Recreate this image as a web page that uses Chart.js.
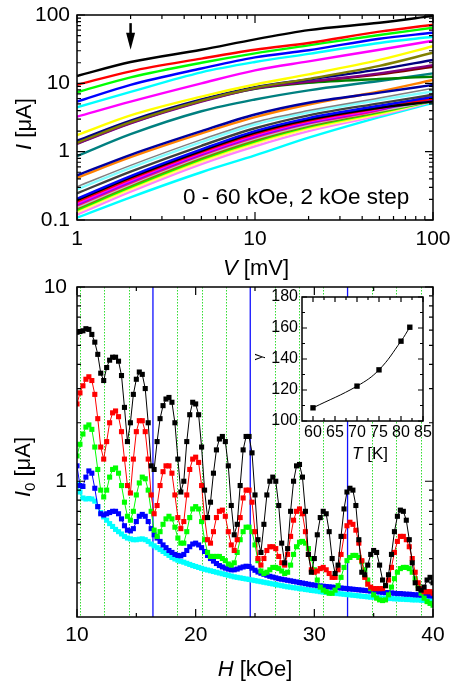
<!DOCTYPE html>
<html><head><meta charset="utf-8">
<script src="https://cdn.jsdelivr.net/npm/chart.js@4"></script>
<style>
html,body{margin:0;padding:0;background:#fff;}
body{width:451px;height:684px;position:relative;overflow:hidden;}
canvas{position:absolute;}
</style></head><body>
<canvas id="top" width="451" height="290" style="left:0;top:0;width:451px;height:290px"></canvas>
<canvas id="bot" width="451" height="424" style="left:0;top:260px;width:451px;height:424px"></canvas>
<canvas id="ins" width="201" height="185" style="left:250px;top:285px;width:201px;height:185px"></canvas>
<script>
// ---------- top panel data: I(V) curves, 0-60 kOe in 2 kOe steps ----------
const V = [1, 2, 5, 10, 20, 50, 100];
const curveColors = ['#000000','#FF0000','#00FF00','#0000FF','#00FFFF','#FF00FF','#FFFF00','#808000','#000080','#800080','#800000','#008000','#008080','#0000A0','#FF8000','#808080','#80FFFF','#404040','#0000FF','#000000','#FF0000','#FF00FF','#8000FF','#FF0080','#C0C0C0','#808000','#00FF00','#FFFF00','#FFFF80','#FF80FF','#00FFFF'];
const curves = [
 [12.8, 20.5, 31, 44, 60, 77, 97],
 [9.5, 15, 23, 31, 39, 57, 72],
 [7.4, 12.2, 20, 27.5, 36, 51, 65],
 [5.4, 9.5, 16.5, 24, 30.5, 45, 55],
 [4.45, 7.5, 14.5, 20.5, 27, 39, 48],
 [3.25, 5.4, 10, 15.5, 21, 31, 42],
 [1.75, 3.4, 6.4, 9.6, 13.5, 22, 35],
 [1.35, 2.7, 5.6, 8.6, 11.6, 18, 28],
 [1.45, 2.85, 5.8, 8.8, 11.4, 16, 22],
 [1.3, 2.6, 5.4, 8.4, 10.6, 14, 18.5],
 [1.38, 2.7, 5.6, 8.5, 10.5, 13.5, 17.5],
 [1.32, 2.65, 5.5, 8.3, 10.2, 11.6, 12.5],
 [0.86, 1.8, 3.9, 5.8, 7.9, 10.8, 14],
 [0.45, 0.9, 2.0, 3.5, 5.2, 7.3, 9.5],
 [0.415, 0.83, 1.85, 3.2, 4.9, 7.6, 11.2],
 [0.307, 0.63, 1.5, 2.7, 4.0, 6.1, 8.5],
 [0.28, 0.58, 1.38, 2.5, 3.75, 5.7, 7.6],
 [0.246, 0.51, 1.22, 2.2, 3.4, 5.1, 6.8],
 [0.205, 0.44, 1.08, 2.0, 3.1, 4.7, 6.3],
 [0.195, 0.42, 1.03, 1.9, 2.95, 4.4, 5.4],
 [0.185, 0.4, 0.99, 1.82, 2.85, 4.35, 6.0],
 [0.176, 0.38, 0.95, 1.74, 2.75, 4.25, 6.6],
 [0.17, 0.365, 0.92, 1.68, 2.65, 4.15, 5.8],
 [0.163, 0.35, 0.89, 1.62, 2.6, 4.05, 6.9],
 [0.155, 0.335, 0.85, 1.55, 2.5, 3.95, 5.6],
 [0.148, 0.32, 0.81, 1.48, 2.4, 3.85, 5.6],
 [0.141, 0.305, 0.78, 1.42, 2.32, 3.75, 5.5],
 [0.137, 0.295, 0.75, 1.37, 2.25, 3.65, 5.7],
 [0.13, 0.28, 0.71, 1.3, 2.15, 3.55, 5.5],
 [0.12, 0.26, 0.66, 1.2, 2.0, 3.4, 5.4],
 [0.108, 0.215, 0.5, 0.88, 1.6, 3.2, 5.2]
];
const topXTicks = [1, 10, 100];
const topXMinor = [2,3,4,5,6,7,8,9,20,30,40,50,60,70,80,90];
const topYTicks = [0.1, 1, 10, 100];
const topYMinor = [0.2,0.3,0.4,0.5,0.6,0.7,0.8,0.9,2,3,4,5,6,7,8,9,20,30,40,50,60,70,80,90];
const arrowAt = {v: 2, from: 76, to: 31};
const topNote = '0 - 60 kOe, 2 kOe step';

// ---------- bottom panel data: I0(H) ----------
const H = [10,10.25,10.5,10.75,11,11.25,11.5,11.75,12,12.25,12.5,12.75,13,13.25,13.5,13.75,14,14.25,14.5,14.75,15,15.25,15.5,15.75,16,16.25,16.5,16.75,17,17.25,17.5,17.75,18,18.25,18.5,18.75,19,19.25,19.5,19.75,20,20.25,20.5,20.75,21,21.25,21.5,21.75,22,22.25,22.5,22.75,23,23.25,23.5,23.75,24,24.25,24.5,24.75,25,25.25,25.5,25.75,26,26.25,26.5,26.75,27,27.25,27.5,27.75,28,28.25,28.5,28.75,29,29.25,29.5,29.75,30,30.25,30.5,30.75,31,31.25,31.5,31.75,32,32.25,32.5,32.75,33,33.25,33.5,33.75,34,34.25,34.5,34.75,35,35.25,35.5,35.75,36,36.25,36.5,36.75,37,37.25,37.5,37.75,38,38.25,38.5,38.75,39,39.25,39.5,39.75,40];
const blackI0 = [5.85,5.9,5.95,6.1, 6.05,5.7,5.2,4.5, 3.6,3.3,3.85,4.2, 4.35,4.35,4.15,3.5, 2.4,1.6,2.0,2.8, 3.35,3.65,3.55,3.0, 2.0,1.2,1.15,1.6, 2.1,2.45,2.65,2.7, 2.55,2.0,1.3,0.88, 1.0,1.6,2.2,2.55, 2.5,2.2,1.5,0.9, 0.65,0.78,1.1,1.45, 1.65,1.7,1.6,1.2, 0.75,0.53,0.6,0.95, 1.45,1.7,1.7,1.4, 0.85,0.5,0.43,0.6, 0.85,1.0,1.05,1.0, 0.75,0.48,0.38,0.45, 0.7,1.0,1.2,1.22, 1.05,0.7,0.42,0.34, 0.4,0.53,0.65,0.7, 0.68,0.55,0.4,0.335, 0.37,0.52,0.72,0.88, 0.92,0.9,0.75,0.5, 0.34,0.33,0.37,0.42, 0.44,0.43,0.37,0.31, 0.29,0.33,0.42,0.55, 0.66,0.71,0.7,0.63, 0.5,0.38,0.3,0.28, 0.275,0.285,0.31,0.32, 0.3];
const redI0 = [2.5,2.85,3.1,3.35, 3.45,3.3,2.8,2.1, 1.5,1.3,1.6,2.0, 2.25,2.3,2.15,1.8, 1.3,0.95,0.87,1.3, 1.8,2.05,2.05,1.8, 1.3,0.85,0.68,0.75, 0.95,1.12,1.2,1.2, 1.1,0.85,0.65,0.57, 0.62,0.85,1.15,1.3, 1.33,1.25,0.95,0.65, 0.5,0.48,0.55,0.65, 0.7,0.71,0.66,0.55, 0.47,0.44,0.5,0.65, 0.82,0.9,0.9,0.78, 0.55,0.4,0.37,0.4, 0.44,0.46,0.46,0.45, 0.41,0.38,0.37,0.42, 0.52,0.63,0.7,0.72, 0.68,0.55,0.42,0.35, 0.34,0.345,0.355,0.36, 0.35,0.335,0.32,0.32, 0.35,0.42,0.52,0.59, 0.615,0.6,0.56,0.48, 0.39,0.32,0.295,0.285, 0.28,0.28,0.28,0.28, 0.29,0.31,0.36,0.43, 0.49,0.52,0.52,0.5, 0.46,0.4,0.34,0.3, 0.28,0.27,0.27,0.27, 0.265];
const greenI0 = [1.35,1.55,1.75,1.9, 1.95,1.85,1.5,1.15, 0.9,0.83,0.9,1.05, 1.15,1.17,1.1,0.95, 0.78,0.66,0.63,0.7, 0.85,0.98,1.05,1.03, 0.9,0.7,0.56,0.52, 0.55,0.6,0.64,0.66, 0.64,0.58,0.51,0.48, 0.48,0.55,0.65,0.72, 0.74,0.72,0.62,0.5, 0.43,0.41,0.41,0.41, 0.41,0.4,0.39,0.375, 0.37,0.38,0.43,0.5, 0.55,0.58,0.58,0.55, 0.47,0.39,0.345,0.335, 0.34,0.35,0.36,0.36, 0.355,0.345,0.335,0.34, 0.37,0.42,0.46,0.485, 0.49,0.48,0.45,0.4, 0.35,0.31,0.285,0.275, 0.27,0.265,0.265,0.275, 0.29,0.32,0.36,0.39, 0.405,0.415,0.415,0.405, 0.385,0.35,0.31,0.28, 0.26,0.25,0.245,0.243, 0.245,0.26,0.285,0.315, 0.34,0.355,0.36,0.36, 0.355,0.34,0.315,0.29, 0.265,0.25,0.24,0.235, 0.23];
const blueI0 = [1.2,0.95,0.94,1.05, 1.13,1.1,0.92,0.74, 0.68,0.67,0.68,0.69, 0.7,0.7,0.68,0.64, 0.59,0.56,0.555,0.57, 0.62,0.66,0.675,0.66, 0.62,0.57,0.53,0.51, 0.49,0.47,0.455,0.44, 0.43,0.42,0.415,0.413, 0.42,0.44,0.46,0.475, 0.48,0.47,0.455,0.435, 0.415,0.4,0.388,0.377, 0.368,0.362,0.357,0.353, 0.35,0.35,0.353,0.358, 0.362,0.365,0.364,0.357, 0.348,0.341,0.336,0.332, 0.328,0.324,0.321,0.318, 0.315,0.313,0.311,0.309, 0.307,0.305,0.303,0.301, 0.299,0.297,0.295,0.293, 0.292,0.29,0.289,0.288, 0.287,0.286,0.285,0.284, 0.283,0.282,0.281,0.28, 0.279,0.278,0.277,0.276, 0.275,0.274,0.273,0.272, 0.271,0.27,0.269,0.268, 0.267,0.267,0.266,0.265, 0.264,0.264,0.263,0.262, 0.262,0.261,0.26,0.26, 0.259,0.258,0.258,0.257, 0.257];
const cyanI0 = [0.97,0.88,0.82,0.81, 0.815,0.81,0.79,0.74, 0.69,0.655,0.63,0.605, 0.585,0.565,0.55,0.535, 0.52,0.51,0.505,0.5, 0.5,0.503,0.505,0.5, 0.49,0.475,0.465,0.455, 0.445,0.435,0.425,0.415, 0.405,0.398,0.392,0.387, 0.383,0.378,0.373,0.368, 0.364,0.36,0.356,0.352, 0.349,0.346,0.343,0.34, 0.337,0.334,0.331,0.328, 0.325,0.322,0.32,0.318, 0.316,0.314,0.312,0.31, 0.308,0.306,0.304,0.302, 0.3,0.298,0.296,0.294, 0.292,0.29,0.288,0.286, 0.285,0.283,0.282,0.28, 0.279,0.277,0.276,0.274, 0.273,0.272,0.27,0.269, 0.268,0.267,0.266,0.265, 0.264,0.263,0.262,0.261, 0.26,0.259,0.258,0.257, 0.256,0.255,0.254,0.253, 0.253,0.252,0.251,0.25, 0.25,0.249,0.249,0.248, 0.248,0.247,0.247,0.246, 0.246,0.245,0.245,0.245, 0.244,0.244,0.243,0.243, 0.242];
const botSeries = [blackI0, redI0, greenI0, blueI0, cyanI0];
const botColors = ['#000000', '#FF0000', '#00FF00', '#0000FF', '#00FFFF'];
const greenLines = [10.25, 12.3, 14.35, 18.45, 20.5, 22.55, 26.65, 28.7, 30.75, 34.85, 36.9, 38.95];
const blueLines = [16.4, 24.6, 32.8];
const botXTicks = [10, 20, 30, 40];
const botXMinor = [15, 25, 35];
const botYTicks = [1, 10];
const botYMinor = [0.3,0.4,0.5,0.6,0.7,0.8,0.9,2,3,4,5,6,7,8,9];

// ---------- inset data: gamma(T) ----------
const T = [60, 70, 75, 80, 82];
const gamma = [108.5, 122.5, 133, 151.5, 160.5];
const insXTicks = [60, 65, 70, 75, 80, 85];
const insXMinor = [62.5, 67.5, 72.5, 77.5, 82.5];
const insYTicks = [100, 120, 140, 160, 180];
const insYMinor = [110, 130, 150, 170];

// ---------- helpers ----------
const FONT = "'Liberation Sans', Arial, Helvetica, sans-serif";
Chart.defaults.font.family = FONT;
Chart.defaults.color = '#000';

function richText(ctx, parts, x, y, align) {
  let w = 0;
  parts.forEach(p => { ctx.font = (p[2] ? 'italic ' : '') + p[1] + 'px ' + FONT; w += ctx.measureText(p[0]).width; });
  let cx = align === 'center' ? x - w / 2 : x;
  ctx.textAlign = 'left'; ctx.textBaseline = 'alphabetic'; ctx.fillStyle = '#000';
  parts.forEach(p => {
    ctx.font = (p[2] ? 'italic ' : '') + p[1] + 'px ' + FONT;
    ctx.fillText(p[0], cx, y + (p[3] || 0));
    cx += ctx.measureText(p[0]).width;
  });
}

function drawBox(chart, xMaj, xMin, yMaj, yMin, majLen, minLen) {
  const {ctx, chartArea: a, scales: {x, y}} = chart;
  ctx.save();
  ctx.strokeStyle = '#000';
  ctx.lineWidth = 1.2;
  ctx.beginPath();
  const tx = (v, len) => { const p = x.getPixelForValue(v); ctx.moveTo(p, a.bottom); ctx.lineTo(p, a.bottom - len); ctx.moveTo(p, a.top); ctx.lineTo(p, a.top + len); };
  const ty = (v, len) => { const p = y.getPixelForValue(v); ctx.moveTo(a.left, p); ctx.lineTo(a.left + len, p); ctx.moveTo(a.right, p); ctx.lineTo(a.right - len, p); };
  xMaj.forEach(v => tx(v, majLen)); xMin.forEach(v => tx(v, minLen));
  yMaj.forEach(v => ty(v, majLen)); yMin.forEach(v => ty(v, minLen));
  ctx.stroke();
  ctx.lineWidth = 1.5;
  ctx.strokeRect(a.left, a.top, a.right - a.left, a.bottom - a.top);
  ctx.restore();
}

function scaleOpts(type, min, max, tickVals, size, pad, fitKey, fitVal, fmt) {
  return {
    type: type, min: min, max: max,
    grid: {display: false, drawTicks: false}, border: {display: false},
    ticks: {font: {size: size}, color: '#000', padding: pad, autoSkip: false, maxRotation: 0, callback: fmt || (v => String(v))},
    afterBuildTicks: s => { s.ticks = tickVals.map(v => ({value: v})); },
    afterFit: s => { s[fitKey] = fitVal; s.paddingLeft = 0; s.paddingRight = 0; s.paddingTop = 0; s.paddingBottom = 0; }
  };
}

function vLine(ctx, a, p, color, dash, w) {
  ctx.save();
  ctx.lineWidth = w;
  ctx.strokeStyle = color;
  ctx.setLineDash(dash);
  ctx.beginPath();
  ctx.moveTo(p, a.top);
  ctx.lineTo(p, a.bottom);
  ctx.stroke();
  ctx.restore();
}

// ---------- top chart ----------
new Chart(document.getElementById('top'), {
  type: 'line',
  data: {
    datasets: curves.map((c, k) => ({
      data: V.map((v, i) => ({x: v, y: c[i]})),
      borderColor: curveColors[k],
      borderWidth: k === 15 ? 1.5 : 2.4,
      pointRadius: 0,
      cubicInterpolationMode: 'monotone',
      fill: false
    }))
  },
  options: {
    responsive: false, animation: false, events: [],
    layout: {padding: {top: 15, right: 18, left: 0, bottom: 0}},
    plugins: {legend: {display: false}, tooltip: {enabled: false}},
    scales: {
      x: scaleOpts('logarithmic', 1, 100, topXTicks, 21, 7, 'height', 70),
      y: scaleOpts('logarithmic', 0.1, 100, topYTicks, 21, 7, 'width', 77)
    }
  },
  plugins: [{
    id: 'topDeco',
    afterDraw(chart) {
      drawBox(chart, topXTicks, topXMinor, topYTicks, topYMinor, 8, 4);
      const {ctx, scales: {x, y}} = chart;
      const ax = x.getPixelForValue(arrowAt.v), y0 = y.getPixelForValue(arrowAt.from), y1 = y.getPixelForValue(arrowAt.to);
      ctx.save();
      ctx.strokeStyle = '#000'; ctx.fillStyle = '#000'; ctx.lineWidth = 2.5;
      ctx.beginPath(); ctx.moveTo(ax, y0); ctx.lineTo(ax, y1 - 12); ctx.stroke();
      ctx.beginPath(); ctx.moveTo(ax - 4.5, y1 - 17); ctx.lineTo(ax + 4.5, y1 - 17); ctx.lineTo(ax, y1); ctx.closePath(); ctx.fill();
      ctx.restore();
      richText(ctx, [[topNote, 22.5, false]], 183, 204, 'left');
      richText(ctx, [['V', 22, true], [' [mV]', 22, false]], 256, 275, 'center');
      ctx.save(); ctx.translate(31, 124); ctx.rotate(-Math.PI / 2);
      richText(ctx, [['I', 22, true], [' [μA]', 22, false]], 0, 0, 'center');
      ctx.restore();
    }
  }]
});

// ---------- bottom chart ----------
new Chart(document.getElementById('bot'), {
  type: 'line',
  data: {
    datasets: botSeries.map((s, k) => ({
      data: H.map((h, i) => ({x: h, y: s[i]})),
      borderColor: botColors[k],
      backgroundColor: botColors[k],
      pointBackgroundColor: botColors[k],
      pointBorderColor: botColors[k],
      pointBorderWidth: 0,
      borderWidth: 1,
      pointStyle: 'rect',
      pointRadius: 3.6,
      tension: 0,
      fill: false
    }))
  },
  options: {
    responsive: false, animation: false, events: [],
    layout: {padding: {top: 27, right: 18, left: 0, bottom: 0}},
    plugins: {legend: {display: false}, tooltip: {enabled: false}},
    scales: {
      x: scaleOpts('linear', 10, 40, botXTicks, 21, 6, 'height', 67),
      y: scaleOpts('logarithmic', 0.2, 10, botYTicks, 21, 10, 'width', 77)
    }
  },
  plugins: [{
    id: 'botDeco',
    beforeDatasetsDraw(chart) {
      const {ctx, chartArea: a, scales: {x}} = chart;
      greenLines.forEach(h => vLine(ctx, a, Math.round(x.getPixelForValue(h)) + 0.5, '#33dd33', [1.5, 1.5], 1));
      blueLines.forEach(h => vLine(ctx, a, x.getPixelForValue(h), '#1010ff', [], 1.3));
    },
    afterDraw(chart) {
      drawBox(chart, botXTicks, botXMinor, botYTicks, botYMinor, 8, 4);
      const {ctx} = chart;
      richText(ctx, [['H', 22, true], [' [kOe]', 22, false]], 255, 416, 'center');
      ctx.save(); ctx.translate(30, 207); ctx.rotate(-Math.PI / 2);
      richText(ctx, [['I', 22, true], ['0', 15, false, 5], [' [μA]', 22, false]], 0, 0, 'center');
      ctx.restore();
    }
  }]
});

// ---------- inset chart ----------
new Chart(document.getElementById('ins'), {
  type: 'line',
  data: {
    datasets: [{
      data: T.map((t, i) => ({x: t, y: gamma[i]})),
      borderColor: '#000', backgroundColor: '#000',
      pointBackgroundColor: '#000', pointBorderColor: '#000', pointBorderWidth: 0,
      borderWidth: 1, pointStyle: 'rect', pointRadius: 3.8, tension: 0.4, fill: false
    }]
  },
  options: {
    responsive: false, animation: false, events: [],
    layout: {padding: {top: 12, right: 28, left: 0, bottom: 0}},
    plugins: {legend: {display: false}, tooltip: {enabled: false}},
    scales: {
      x: scaleOpts('linear', 57.5, 85, insXTicks, 16, 2, 'height', 49),
      y: scaleOpts('linear', 100, 180, insYTicks, 16, 4, 'width', 52)
    }
  },
  plugins: [{
    id: 'insDeco',
    beforeDraw(chart) {
      const {ctx, chartArea: a} = chart;
      ctx.save(); ctx.fillStyle = '#fff'; ctx.fillRect(a.left, a.top, a.right - a.left, a.bottom - a.top); ctx.restore();
    },
    afterDraw(chart) {
      drawBox(chart, insXTicks, insXMinor, insYTicks, insYMinor, 5, 3);
      const {ctx} = chart;
      richText(ctx, [['T', 17, true], [' [K]', 17, false]], 120, 174, 'center');
      ctx.save(); ctx.translate(12, 72); ctx.rotate(-Math.PI / 2);
      ctx.fillStyle = '#fff'; ctx.fillRect(-6, -11, 12, 15);
      richText(ctx, [['γ', 13, false]], 0, 0, 'center');
      ctx.restore();
    }
  }]
});
</script></body></html>
